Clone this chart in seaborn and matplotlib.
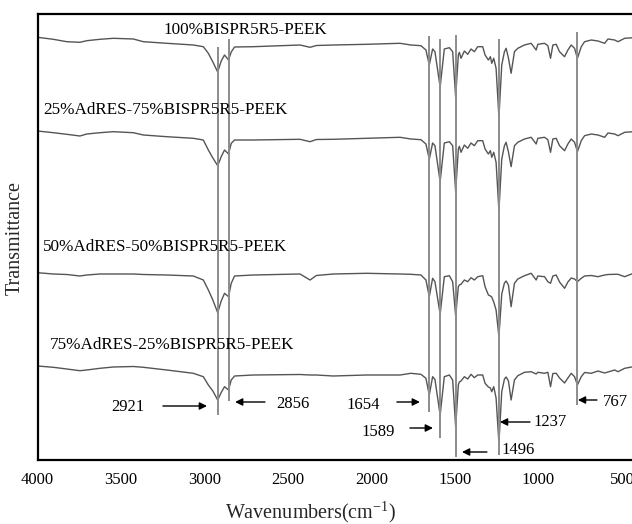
import matplotlib
matplotlib.use("Agg")
import matplotlib.pyplot as plt
import seaborn as sns
import pandas as pd

# ---------------- data ----------------
wavenumber = [4000, 3905, 3825, 3746, 3705, 3626, 3546, 3426, 3366, 3226,
              3067, 3007, 2977, 2950, 2921, 2900, 2880, 2856, 2840, 2820,
              2708, 2428, 2368, 2330, 2229, 2029, 1829, 1764, 1704, 1674,
              1654, 1634, 1620, 1589, 1564, 1534, 1514, 1496, 1480, 1474,
              1464, 1444, 1424, 1404, 1384, 1364, 1334, 1320, 1300, 1288,
              1280, 1268, 1254, 1237, 1220, 1204, 1194, 1180, 1164, 1144,
              1124, 1084, 1044, 1014, 1004, 964, 944, 928, 914, 894,
              874, 844, 824, 804, 784, 767, 744, 724, 684, 644,
              604, 584, 544, 524, 484, 432, 400]

t_100 = [422.7, 420.7, 418.3, 417.7, 419.3, 420.7, 421.7, 421.0, 418.3, 416.7,
         415.0, 413.3, 406.7, 398.0, 388.0, 399.0, 405.0, 400.0, 408.0, 413.0,
         413.3, 415.0, 412.7, 414.5, 415.0, 415.7, 416.7, 415.0, 414.3, 410.0,
         395.0, 411.0, 408.3, 373.0, 411.0, 412.3, 408.3, 363.0, 405.0, 407.7,
         401.7, 409.0, 405.7, 411.0, 408.3, 413.3, 413.3, 405.0, 400.0, 403.3,
         396.7, 401.7, 391.7, 343.0, 395.0, 408.3, 411.7, 402.0, 386.7, 408.3,
         411.7, 415.0, 416.7, 410.0, 415.7, 416.7, 414.3, 401.7, 415.0, 415.7,
         408.3, 403.3, 410.0, 415.0, 411.7, 401.7, 413.3, 418.3, 420.0, 419.0,
         416.7, 421.0, 420.0, 418.3, 421.7, 422.3, 423.0]

t_25 = [329.0, 327.3, 325.7, 324.0, 326.0, 327.3, 328.3, 327.3, 325.0, 323.3,
        321.7, 320.0, 310.0, 302.0, 294.3, 303.3, 310.0, 306.0, 316.7, 320.0,
        320.0, 320.7, 318.3, 320.5, 320.7, 321.7, 322.7, 321.0, 320.3, 316.0,
        300.7, 317.0, 314.3, 278.3, 317.0, 318.3, 314.3, 268.3, 311.0, 313.7,
        307.7, 315.0, 311.7, 317.0, 314.3, 319.3, 319.3, 311.0, 306.0, 309.3,
        302.7, 307.7, 297.7, 249.3, 301.0, 314.3, 317.7, 308.0, 293.3, 314.3,
        317.7, 321.0, 322.7, 316.0, 321.7, 322.7, 320.3, 307.7, 321.0, 321.7,
        314.3, 309.3, 316.0, 321.0, 317.7, 308.3, 319.3, 324.3, 326.0, 325.0,
        322.7, 327.0, 326.0, 324.3, 327.7, 328.3, 329.0]

t_50 = [187.3, 186.0, 185.5, 184.0, 185.0, 186.0, 186.0, 186.0, 185.5, 185.0,
        184.0, 180.0, 170.0, 160.0, 147.3, 159.0, 166.7, 163.3, 176.7, 184.0,
        185.0, 186.0, 180.0, 184.5, 186.0, 186.7, 186.0, 185.7, 185.0, 180.0,
        163.3, 181.7, 178.3, 145.7, 183.3, 184.3, 178.3, 144.0, 173.3, 175.0,
        175.7, 180.0, 178.3, 182.3, 180.0, 183.3, 184.3, 173.3, 165.0, 164.0,
        163.0, 158.0, 150.0, 123.3, 166.0, 177.0, 179.0, 175.0, 153.3, 176.7,
        181.0, 184.3, 186.7, 180.0, 184.0, 183.3, 178.3, 176.7, 184.0, 185.0,
        178.0, 171.7, 178.0, 182.0, 181.0, 178.3, 181.7, 184.0, 184.5, 183.3,
        185.0, 185.5, 185.7, 185.7, 183.3, 186.7, 187.0]

t_75 = [94.0, 92.7, 91.0, 89.3, 90.0, 91.7, 93.0, 93.5, 92.7, 90.0,
        86.7, 83.3, 75.0, 69.0, 60.0, 67.5, 73.3, 70.0, 80.0, 84.0,
        85.0, 85.5, 85.0, 85.0, 84.0, 85.0, 85.0, 86.7, 85.7, 81.7,
        65.0, 83.3, 80.5, 45.0, 83.3, 85.0, 80.0, 33.3, 75.0, 78.0,
        79.0, 83.3, 81.0, 85.7, 82.3, 85.0, 85.0, 76.7, 73.0, 72.0,
        68.3, 73.3, 62.0, 17.0, 68.3, 81.0, 83.0, 79.0, 60.0, 80.0,
        84.3, 87.7, 88.3, 86.0, 87.7, 86.7, 87.7, 73.3, 86.5, 86.7,
        82.0, 77.0, 82.0, 86.7, 83.3, 75.0, 83.3, 87.5, 86.7, 89.0,
        87.0, 88.0, 90.0, 88.3, 91.7, 93.3, 93.5]

series_labels = ["100%BISPR5R5-PEEK",
                 "25%AdRES-75%BISPR5R5-PEEK",
                 "50%AdRES-50%BISPR5R5-PEEK",
                 "75%AdRES-25%BISPR5R5-PEEK"]

peak_wavenumbers = [2921, 2856, 1654, 1589, 1496, 1237, 767]
x_ticks = [4000, 3500, 3000, 2500, 2000, 1500, 1000, 500]

# ---------------- layout (positions only) ----------------
peak_line_top = [413, 421, 424, 421, 425, 421, 428]
peak_line_bottom = [45, 59, 48, 22, 3, 5, 55]
peak_text_xy = [(3458, 53), (2470, 56), (2051, 55), (1961, 28),
                (1123, 10), (931, 38), (540, 58)]
peak_arrow_tail = [(3249, 54), (2638, 58), (1848, 58), (1770, 32),
                   (1309, 8), (1051, 38), (650, 60)]
peak_arrow_head = [(2985, 54), (2817, 58), (1710, 58), (1632, 32),
                   (1458, 8), (1231, 38), (764, 60)]
series_label_xy = [(3248, 430), (3967, 350), (3967, 213), (3925, 115)]

# ---------------- style ----------------
sns.set_style("white")
plt.rcParams["font.family"] = ["Liberation Serif", "DejaVu Serif"]
plt.rcParams["mathtext.fontset"] = "custom"
plt.rcParams["mathtext.rm"] = "Liberation Serif"
plt.rcParams["mathtext.it"] = "Liberation Serif:italic"

W, H = 632, 524
fig = plt.figure(figsize=(W / 100, H / 100), dpi=100)
ax_left, ax_top, ax_bottom = 37.5, 14, 460
x_right_px = 37.5 + (4000 - 400) * 0.167
ax = fig.add_axes([ax_left / W, 1 - ax_bottom / H,
                   (x_right_px - ax_left) / W, (ax_bottom - ax_top) / H])

frames = []
for lab, vals in zip(series_labels, [t_100, t_25, t_50, t_75]):
    frames.append(pd.DataFrame({"wavenumber": wavenumber,
                                "transmittance": vals,
                                "sample": lab}))
df = pd.concat(frames, ignore_index=True)

sns.lineplot(data=df, x="wavenumber", y="transmittance", units="sample",
             estimator=None, color="#555555", linewidth=1.0, ax=ax,
             legend=False)

ax.vlines(peak_wavenumbers, peak_line_bottom, peak_line_top,
          colors="#8c8c8c", linewidth=1.4, zorder=3)

for (tx, ty), tail, head, wn in zip(peak_text_xy, peak_arrow_tail,
                                    peak_arrow_head, peak_wavenumbers):
    ax.annotate("", xy=head, xytext=tail,
                arrowprops=dict(arrowstyle="-|>", color="black", lw=1.0,
                                mutation_scale=11, shrinkA=0, shrinkB=0))
    ax.text(tx, ty, str(wn), ha="center", va="center", fontsize=12,
            color="black")

for (lx, ly), lab in zip(series_label_xy, series_labels):
    ax.text(lx, ly, lab, ha="left", va="center", fontsize=12.3,
            color="black")

ax.set_xlim(4000, 400)
ax.set_ylim(0, 446)
ax.set_xticks(x_ticks)
ax.set_xticklabels([str(t) for t in x_ticks])
ax.set_yticks([])
ax.tick_params(axis="x", length=0, pad=9, labelsize=12, colors="black")
for sp in ax.spines.values():
    sp.set_color("black")
    sp.set_linewidth(1.6)
ax.set_xlabel("")
ax.set_ylabel("")

fig.text(310 / W, 1 - 512 / H, "Wavenumbers(cm$^{-1}$)", ha="center",
         va="center", fontsize=14.5)
fig.text(15 / W, 1 - 238 / H, "Transmittance", ha="center", va="center",
         rotation=90, fontsize=14.5)

fig.savefig("out.png", dpi=100)
